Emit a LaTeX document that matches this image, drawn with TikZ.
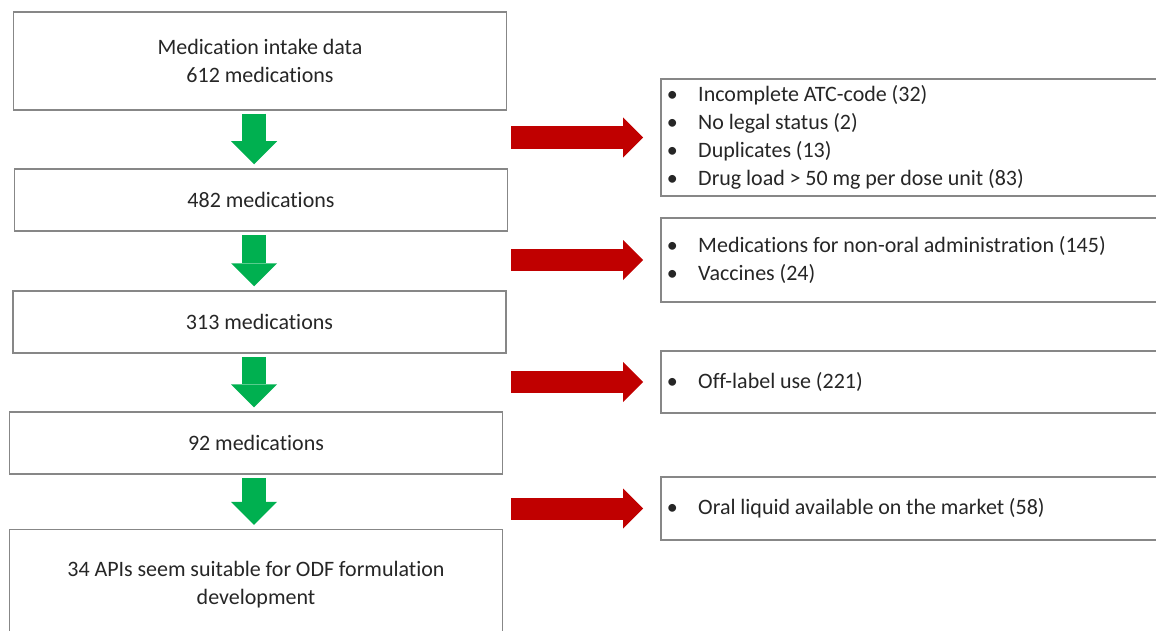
\documentclass[tikz,border=0pt]{standalone}
\usepackage{fontspec}
\setmainfont{Carlito}[Ligatures=NoCommon]
\usetikzlibrary{arrows.meta}
\definecolor{boxgray}{RGB}{135,135,135}
\definecolor{passgreen}{RGB}{0,176,80}
\definecolor{dropred}{RGB}{192,0,0}
\newcommand{\boxfont}{\fontsize{11}{14}\selectfont}
\newcommand{\tightspace}{\spaceskip=2.4pt plus 0.6pt minus 0.2pt\relax}
\tikzset{
  stage/.style={draw=boxgray, line width=0.75pt, minimum width=246.5pt, align=center, inner sep=0pt, text=black!85},
  excl/.style={draw=boxgray, line width=0.75pt, minimum width=260pt, text width=254pt, inner xsep=3pt, align=left, anchor=west, text=black!85},
  keep/.style={passgreen, line width=12pt, -{Triangle[length=11.5pt, width=23pt, line width=0pt]}},
  drop/.style={dropred, line width=11pt, -{Triangle[length=10pt, width=20pt, line width=0pt]}},
}
\newcommand{\itm}{\makebox[15.75pt][l]{\textbullet}}
\begin{document}
\begin{tikzpicture}[x=0.5pt, y=-0.5pt, font=\boxfont, execute at begin node=\tightspace]
  \clip (0,0) rectangle (1156,631);
  % left column
  \node[stage, minimum height=49pt] (intake) at (260,61) {Medication intake data\\612 medications};
  \node[stage, minimum height=31pt] (m482) at (261,200) {482 medications};
  \node[stage, minimum height=31pt] (m313) at (259.5,322) {313 medications};
  \node[stage, minimum height=31pt] (m92) at (256,443) {92 medications};
  \node[stage, minimum height=55pt] (apis) at (256,584.5) {34 APIs seem suitable for ODF formulation\\development};
  % right column
  \node[excl, minimum height=55.5pt] (ex1) at (660,137.5)
    {\itm Incomplete ATC-code (32)\\\itm No legal status (2)\\\itm Duplicates (13)\\\itm Drug load > 50 mg per dose unit (83)};
  \node[excl, minimum height=42pt] (ex2) at (660,260)
    {\itm Medications for non-oral administration (145)\\\itm Vaccines (24)};
  \node[excl, minimum height=31pt] (ex3) at (660,382) {\itm Off-label use (221)};
  \node[excl, minimum height=31.5pt] (ex4) at (660,508.5) {\itm Oral liquid available on the market (58)};
  % arrows
  \coordinate (gx) at (254,0);
  \coordinate (rx) at (511,0);
  \begin{scope}[shorten <=1.5pt, shorten >=2pt]
    \draw[keep] (intake.south -| gx) -- (m482.north -| gx);
    \draw[keep] (m482.south -| gx) -- (m313.north -| gx);
    \draw[keep] (m313.south -| gx) -- (m92.north -| gx);
    \draw[keep] (m92.south -| gx) -- (apis.north -| gx);
  \end{scope}
  \begin{scope}[shorten >=8.5pt]
    \draw[drop] (ex1.west -| rx) -- (ex1.west);
    \draw[drop] (ex2.west -| rx) -- (ex2.west);
    \draw[drop] (ex3.west -| rx) -- (ex3.west);
    \draw[drop] (ex4.west -| rx) -- (ex4.west);
  \end{scope}
\end{tikzpicture}
\end{document}
